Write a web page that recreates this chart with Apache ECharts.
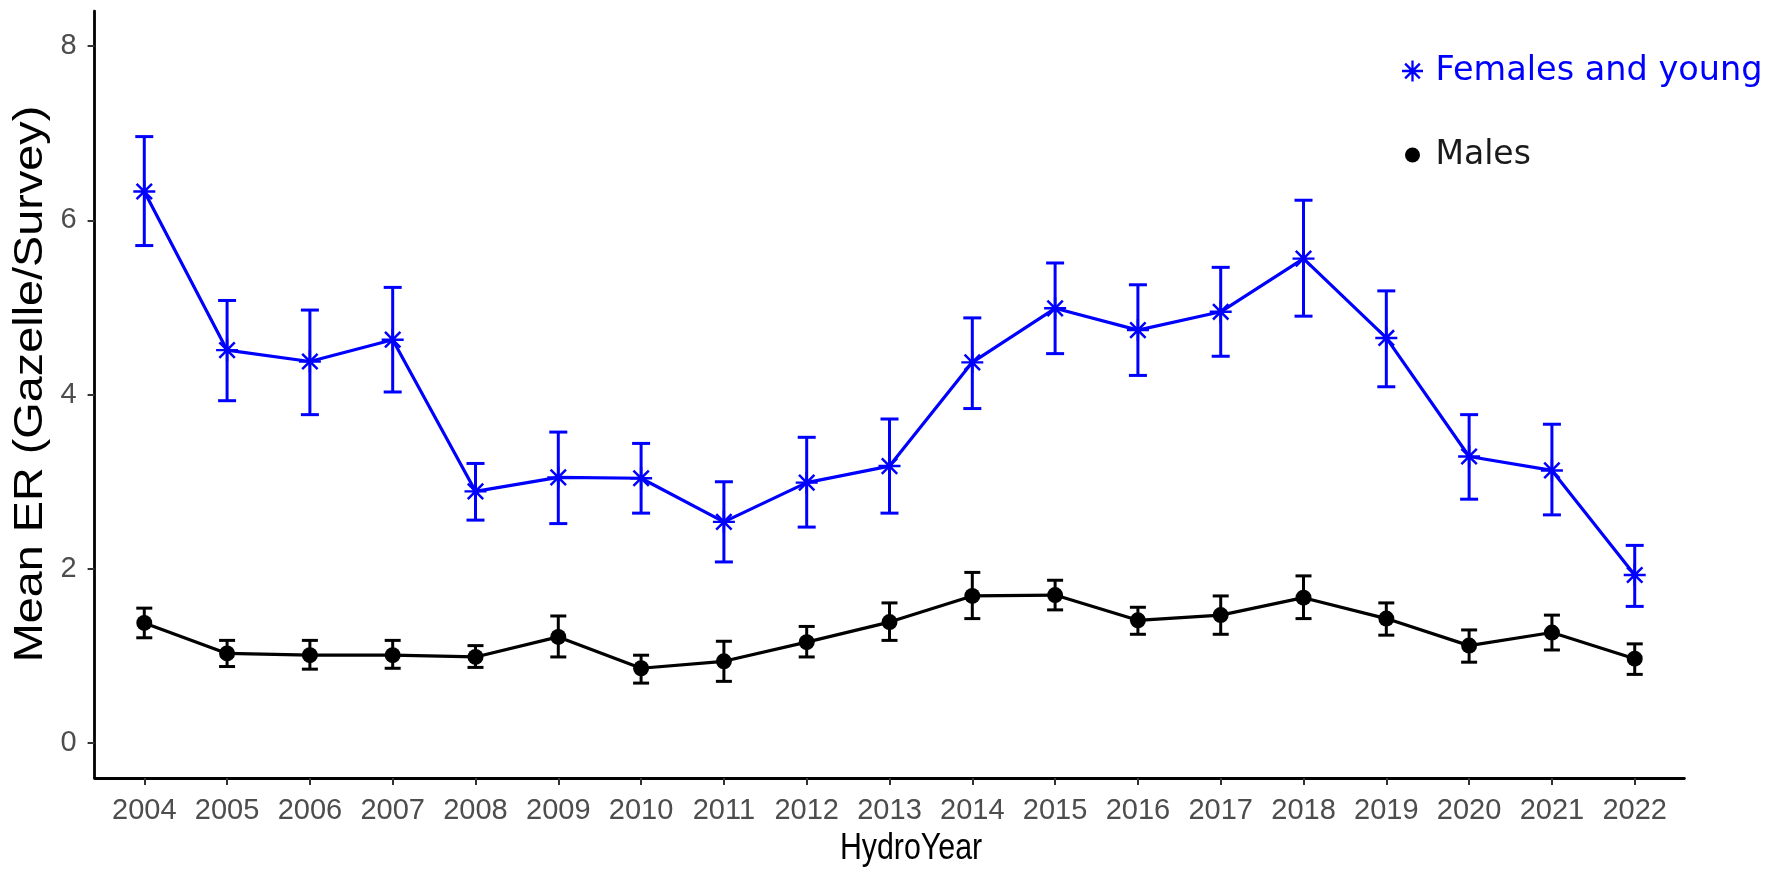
<!DOCTYPE html>
<html>
<head>
<meta charset="utf-8">
<title>Mean ER by HydroYear</title>
<script src="https://cdn.jsdelivr.net/npm/echarts@6/dist/echarts.min.js"></script>
<style>
  html, body { margin: 0; padding: 0; background: #ffffff; }
  #chart { width: 1770px; height: 876px; }
</style>
</head>
<body>
<div id="chart"></div>
<script>
// Hydrological years on the x axis
const years = [2004, 2005, 2006, 2007, 2008, 2009, 2010, 2011, 2012, 2013,
               2014, 2015, 2016, 2017, 2018, 2019, 2020, 2021, 2022];

// Females and young: mean encounter rate with lower / upper error limits
const females     = [6.33, 4.51, 4.38, 4.63, 2.89, 3.05, 3.04, 2.54, 2.99, 3.18,
                     4.37, 4.99, 4.74, 4.95, 5.56, 4.65, 3.29, 3.13, 1.93];
const femalesLow  = [5.71, 3.93, 3.77, 4.03, 2.56, 2.52, 2.64, 2.08, 2.48, 2.64,
                     3.84, 4.47, 4.22, 4.44, 4.90, 4.09, 2.80, 2.62, 1.57];
const femalesHigh = [6.96, 5.08, 4.97, 5.23, 3.21, 3.57, 3.44, 3.00, 3.51, 3.72,
                     4.88, 5.51, 5.26, 5.46, 6.23, 5.19, 3.77, 3.66, 2.27];

// Males: mean encounter rate with lower / upper error limits
const males     = [1.38, 1.03, 1.01, 1.01, 0.99, 1.22, 0.86, 0.94, 1.16, 1.39,
                   1.69, 1.70, 1.41, 1.47, 1.67, 1.43, 1.12, 1.27, 0.97];
const malesLow  = [1.21, 0.88, 0.85, 0.86, 0.87, 0.99, 0.69, 0.71, 0.99, 1.18,
                   1.43, 1.53, 1.25, 1.25, 1.43, 1.24, 0.93, 1.07, 0.79];
const malesHigh = [1.55, 1.18, 1.18, 1.18, 1.12, 1.46, 1.01, 1.17, 1.34, 1.61,
                   1.96, 1.87, 1.56, 1.69, 1.92, 1.61, 1.30, 1.47, 1.14];

// Axis tick values
const yTicks = [0, 2, 4, 6, 8];

const BLUE = '#0000FF';
const BLACK = '#000000';
const SANS = 'Liberation Sans, Arial, sans-serif';

// Asterisk marker (plus and cross superimposed)
const STAR = 'path://M8.9,0H11.1V20H8.9Z M0,8.9H20V11.1H0Z ' +
  'M3.8,2.2L17.8,16.2L16.2,17.8L2.2,3.8Z M17.8,3.8L3.8,17.8L2.2,16.2L16.2,2.2Z';

function pairs(xs, ys) { return xs.map((x, i) => [x, ys[i]]); }
function bars(xs, lo, hi) { return xs.map((x, i) => [x, lo[i], hi[i]]); }

function errorBar(color, capHalf, width) {
  return function (params, api) {
    const x = api.value(0);
    const top = api.coord([x, api.value(2)]);
    const bot = api.coord([x, api.value(1)]);
    const st = { stroke: color, lineWidth: width };
    return {
      type: 'group',
      children: [
        { type: 'line', shape: { x1: top[0], y1: top[1], x2: bot[0], y2: bot[1] }, style: st },
        { type: 'line', shape: { x1: top[0] - capHalf, y1: top[1], x2: top[0] + capHalf, y2: top[1] }, style: st },
        { type: 'line', shape: { x1: bot[0] - capHalf, y1: bot[1], x2: bot[0] + capHalf, y2: bot[1] }, style: st }
      ]
    };
  };
}

const tickFont = { fontFamily: SANS, fontSize: 29, color: '#4D4D4D' };

const chart = echarts.init(document.getElementById('chart'), null, { renderer: 'canvas' });

chart.setOption({
  animation: false,
  backgroundColor: '#ffffff',
  grid: {
    left: 94.6, top: 11.1, width: 1589.8, height: 767,
    outerBoundsMode: 'none'
  },
  // axis titles: the vertical one is drawn elongated, the horizontal one condensed
  graphic: [
    {
      type: 'text',
      x: 31, y: 384,
      rotation: Math.PI / 2,
      scaleX: 1.17,
      style: {
        text: 'Mean ER (Gazelle/Survey)',
        fontFamily: SANS,
        fontSize: 40,
        fill: '#000000',
        align: 'center',
        verticalAlign: 'middle'
      }
    },
    {
      type: 'text',
      x: 911, y: 849,
      scaleX: 0.82,
      style: {
        text: 'HydroYear',
        fontFamily: SANS,
        fontSize: 37,
        fill: '#000000',
        align: 'center',
        verticalAlign: 'middle'
      }
    }
  ],
  legend: [
    {
      left: 1397, top: 49,
      orient: 'vertical',
      itemWidth: 36, itemHeight: 21, itemGap: 10,
      selectedMode: false,
      textStyle: { fontFamily: 'DejaVu Sans, Verdana, sans-serif', fontSize: 33.5, lineHeight: 34 },
      data: [{ name: 'Females and young', icon: STAR, textStyle: { color: BLUE } }]
    },
    {
      left: 1400, top: 133,
      orient: 'vertical',
      itemWidth: 36, itemHeight: 15, itemGap: 10,
      selectedMode: false,
      textStyle: { fontFamily: 'DejaVu Sans, Verdana, sans-serif', fontSize: 33, lineHeight: 34 },
      data: [{ name: 'Males', icon: 'circle', textStyle: { color: '#1A1A1A' } }]
    }
  ],
  xAxis: {
    type: 'value',
    min: 2003.4, max: 2022.6,
    axisLine: { show: true, onZero: false, lineStyle: { color: '#000000', width: 2.8 } },
    axisTick: { show: true, length: 7, lineStyle: { color: '#333333', width: 2 }, customValues: years },
    axisLabel: Object.assign({ margin: 18, customValues: years, formatter: v => String(v) }, tickFont),
    splitLine: { show: false }
  },
  yAxis: {
    type: 'value',
    min: -0.4, max: 8.4,
    axisLine: { show: true, onZero: false, lineStyle: { color: '#000000', width: 2.8 } },
    axisTick: { show: true, length: 7, lineStyle: { color: '#333333', width: 2 }, customValues: yTicks },
    axisLabel: Object.assign({ margin: 18, customValues: yTicks, formatter: v => String(v) }, tickFont),
    splitLine: { show: false }
  },
  series: [
    {
      name: 'Females and young error',
      type: 'custom',
      renderItem: errorBar(BLUE, 9, 3),
      data: bars(years, femalesLow, femalesHigh),
      encode: { x: 0, y: [1, 2] },
      z: 2
    },
    {
      name: 'Males error',
      type: 'custom',
      renderItem: errorBar(BLACK, 8, 3),
      data: bars(years, malesLow, malesHigh),
      encode: { x: 0, y: [1, 2] },
      z: 2
    },
    {
      name: 'Females and young',
      type: 'line',
      data: pairs(years, females),
      symbol: STAR,
      symbolSize: 22,
      showSymbol: true,
      itemStyle: { color: BLUE },
      lineStyle: { color: BLUE, width: 3.2 },
      z: 3
    },
    {
      name: 'Males',
      type: 'line',
      data: pairs(years, males),
      symbol: 'circle',
      symbolSize: 16,
      showSymbol: true,
      itemStyle: { color: BLACK },
      lineStyle: { color: BLACK, width: 3.2 },
      z: 3
    }
  ]
});
</script>
</body>
</html>
